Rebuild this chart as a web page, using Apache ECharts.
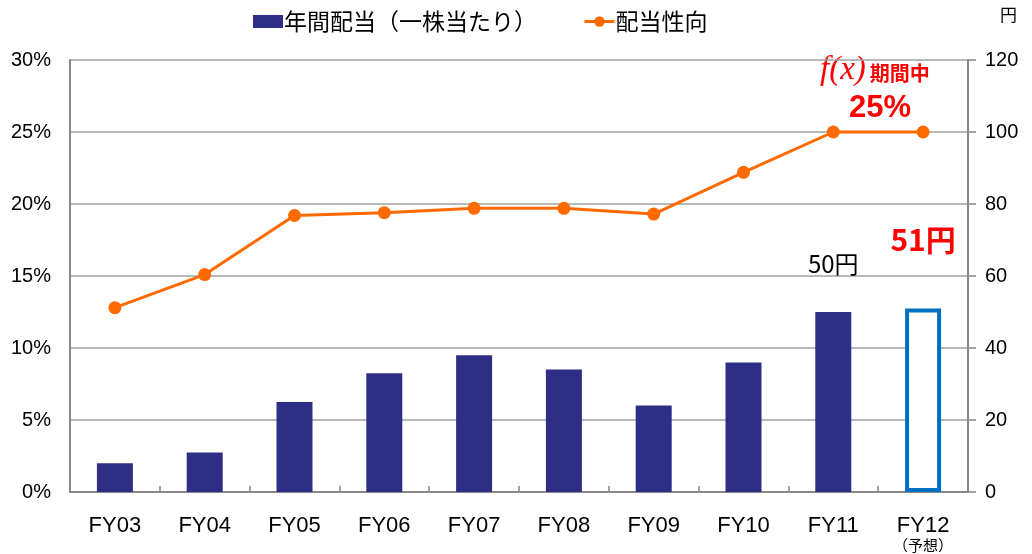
<!DOCTYPE html>
<html>
<head>
<meta charset="utf-8">
<script src="https://cdn.jsdelivr.net/npm/echarts@6/dist/echarts.min.js"></script>
<style>
html,body{margin:0;padding:0;background:#fff;}
#c{width:1032px;height:554px;}
</style>
</head>
<body>
<div id="c"></div>
<script>
var categories = ['FY03','FY04','FY05','FY06','FY07','FY08','FY09','FY10','FY11','FY12'];
var dividends = [8, 11, 25, 33, 38, 34, 24, 36, 50, 51];
var payoutRatio = [12.8, 15.1, 19.2, 19.4, 19.7, 19.7, 19.3, 22.2, 25, 25];
var leftTicks = [0, 5, 10, 15, 20, 25, 30];
var rightTicks = [0, 20, 40, 60, 80, 100, 120];
var barName = '年間配当（一株当たり）';
var lineName = '配当性向';

var FONT = '"Liberation Sans", "Noto Sans CJK JP", sans-serif';
var CJK = '"Noto Sans CJK JP", "Liberation Sans", sans-serif';

var barData = dividends.map(function (v, i) {
  var d = { value: v };
  if (i === categories.length - 1) {
    d.itemStyle = { color: '#ffffff', borderColor: '#0070C0', borderWidth: 4 };
    d.label = {
      show: true, position: 'top', distance: 54, formatter: '{c}円',
      color: '#FF0000', fontSize: 30, fontWeight: 'bold', fontFamily: CJK
    };
  } else if (i === categories.length - 2) {
    d.label = {
      show: true, position: 'top', distance: 36, formatter: '{c}円',
      color: '#000000', fontSize: 24, fontFamily: CJK
    };
  }
  return d;
});

var chart = echarts.init(document.getElementById('c'), null, { renderer: 'canvas' });
chart.setOption({
  animation: false,
  backgroundColor: '#ffffff',
  textStyle: { fontFamily: FONT },
  legend: {
    top: 5,
    left: 248,
    itemWidth: 30,
    itemHeight: 13,
    itemGap: 46,
    textStyle: { fontSize: 23, color: '#000', fontFamily: CJK, padding: [0, 0, 0, -4] },
    data: [
      { name: barName, icon: 'rect' },
      { name: lineName, itemStyle: { color: '#FF6A00' }, lineStyle: { width: 3, color: '#FF6A00' } }
    ]
  },
  grid: { left: 70, right: 64, top: 60, bottom: 62, containLabel: false },
  xAxis: {
    type: 'category',
    data: categories,
    boundaryGap: true,
    axisLine: { lineStyle: { color: '#888', width: 2 } },
    axisTick: { show: true, inside: true, interval: 0, length: 6, lineStyle: { color: '#888', width: 1.5 } },
    axisLabel: {
      interval: 0,
      margin: 23, fontSize: 22, lineHeight: 22, color: '#000', fontFamily: FONT,
      formatter: function (v) {
        return v === 'FY12' ? v + '\n{s|（予想）}' : v;
      },
      rich: { s: { fontSize: 15, fontFamily: CJK, color: '#000', lineHeight: 16, padding: [0, 0, 0, 0] } }
    }
  },
  yAxis: [
    {
      type: 'value', min: leftTicks[0], max: leftTicks[leftTicks.length - 1], interval: 5,
      position: 'left',
      axisLine: { show: true, lineStyle: { color: '#888', width: 2 } },
      axisTick: { show: false },
      axisLabel: { margin: 19, fontSize: 20, color: '#000', formatter: '{value}%', fontFamily: FONT },
      splitLine: { show: true, lineStyle: { color: '#A0A0A0', width: 1.5 } }
    },
    {
      type: 'value', min: rightTicks[0], max: rightTicks[rightTicks.length - 1], interval: 20,
      position: 'right',
      axisLine: { show: true, lineStyle: { color: '#888', width: 2 } },
      axisTick: { show: true, length: 8, lineStyle: { color: '#888', width: 1.5 } },
      axisLabel: { margin: 17, fontSize: 20, color: '#000', fontFamily: FONT },
      splitLine: { show: false }
    }
  ],
  series: [
    {
      name: barName,
      type: 'bar',
      yAxisIndex: 1,
      barWidth: 36,
      itemStyle: { color: '#2E2E87' },
      data: barData,
      z: 2
    },
    {
      name: lineName,
      type: 'line',
      yAxisIndex: 0,
      data: payoutRatio,
      symbol: 'circle',
      symbolSize: 13,
      lineStyle: { color: '#FF6A00', width: 3 },
      itemStyle: { color: '#FF6A00' },
      z: 3
    }
  ],
  graphic: [
    {
      type: 'text', left: 1000, top: 6,
      style: { text: '円', fontSize: 17, fill: '#000', fontFamily: CJK }
    },
    {
      type: 'text', left: 820, top: 54,
      style: {
        text: '{f|f(x)}{k|期間中}',
        rich: {
          f: { fontFamily: '"Liberation Serif", "DejaVu Serif", serif', fontStyle: 'italic', fontSize: 33, fill: '#FF0000', fontWeight: 'normal' },
          k: { fontFamily: CJK, fontSize: 20, fontWeight: 'bold', fill: '#FF0000', padding: [6, 0, 0, 4] }
        }
      }
    },
    {
      type: 'text', left: 849, top: 93,
      style: { text: '25%', fontSize: 31, fontWeight: 'bold', fill: '#FF0000', fontFamily: FONT }
    }
  ]
});
</script>
</body>
</html>
